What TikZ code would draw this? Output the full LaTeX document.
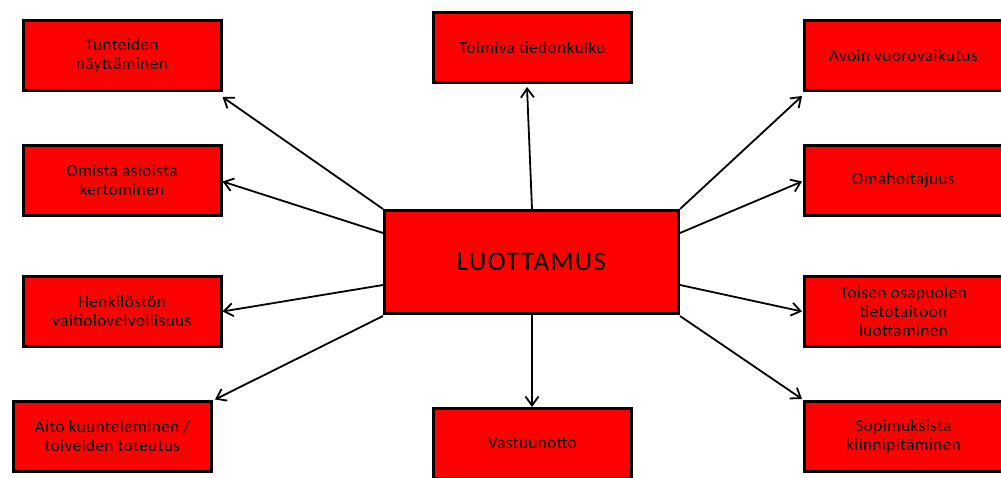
\documentclass[tikz,border=0pt]{standalone}
\usepackage{fontspec}
\setmainfont{Carlito}[LetterSpace=3]
\newfontfamily\bigfont{Carlito}[LetterSpace=5]
\usetikzlibrary{arrows.meta,calc}
\definecolor{boxred}{RGB}{255,0,0}
\begin{document}
\begin{tikzpicture}[x=1pt,y=1pt,
  box/.style={draw=black, line width=3pt, fill=boxred, minimum width=198pt, minimum height=70pt,
    inner sep=0pt, align=center, text=black, font=\fontsize{17}{19}\selectfont},
  bigbox/.style={box, minimum width=294pt, minimum height=103pt, font=\bigfont\fontsize{27}{32}\selectfont},
  arr/.style={line width=1.8pt, -{Straight Barb[length=9pt,width=13pt,line width=1.8pt]}}]
\useasboundingbox (0,0) rectangle (1001,477);
\node[box] (t1) at (122,421.5) {Tunteiden\\näyttäminen};
\node[box] (t2) at (122,296.5) {Omista asioista\\kertominen};
\node[box] (t3) at (122,165.5) {Henkilöstön\\vaitiolovelvollisuus};
\node[box] (t4) at (112.5,40.5) {Aito kuunteleminen /\\toiveiden toteutus};
\node[box] (top) at (532.5,429.5) {Toimiva tiedonkulku};
\node[bigbox] (c) at (531.5,215) {LUOTTAMUS};
\node[box] (bot) at (532.5,33.5) {Vastuunotto};
\node[box] (r1) at (903.5,421.5) {Avoin vuorovaikutus};
\node[box] (r2) at (903.5,296.5) {Omahoitajuus};
\node[box] (r3) at (903.5,165.5) {Toisen osapuolen\\tietotaitoon\\luottaminen};
\node[box] (r4) at (903.5,41) {Sopimuksista\\kiinnipitäminen};
\draw[arr] ($(c.north)+(0.5,0)$) -- ($(top.south)+(-5.5,-3)$);
\draw[arr] ($(c.south)+(0.5,0)$) -- ($(bot.north)+(-0.5,0)$);
\draw[arr] (c.north west) -- ($(t1.south east)+(0,-5)$);
\draw[arr] ($(c.north west)+(0,-24)$) -- ($(t2.east)+(0,-1)$);
\draw[arr] ($(c.south west)+(0,30)$) -- (t3.east);
\draw[arr] ($(c.south west)+(0,-1)$) -- ($(t4.north east)+(2,0.5)$);
\draw[arr] (c.north east) -- ($(r1.south west)+(-1,-4)$);
\draw[arr] ($(c.north east)+(0,-24)$) -- ($(r2.west)+(-1,-1)$);
\draw[arr] ($(c.south east)+(0,30)$) -- ($(r3.west)+(-1,0)$);
\draw[arr] ($(c.south east)+(0,-1)$) -- ($(r4.north west)+(-1,0.5)$);
\end{tikzpicture}
\end{document}
